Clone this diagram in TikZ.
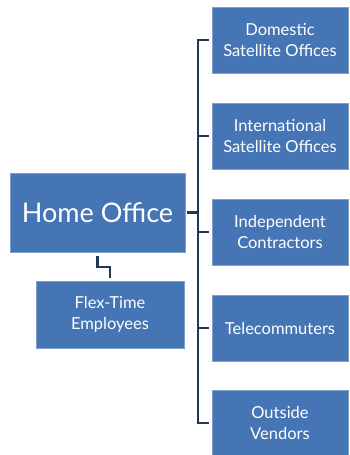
\documentclass[tikz,border=0pt]{standalone}
\usepackage{fontspec}
\setmainfont{Lato}
\usetikzlibrary{positioning, calc}
\definecolor{boxblue}{RGB}{69,117,180}
\definecolor{boxedge}{RGB}{125,160,205}
\definecolor{linknavy}{RGB}{31,56,88}

\tikzset{
    unitbox/.style={draw=boxedge, line width=0.6pt, fill=boxblue, text=white,
        align=center, inner sep=0pt, font=\fontsize{16.5}{20.5}\selectfont},
    branchbox/.style={unitbox, minimum width=136pt, minimum height=66pt},
    link/.style={draw=linknavy, line width=2.2pt}
}

\begin{document}
\begin{tikzpicture}[x=1pt, y=-1pt]
        \useasboundingbox (0,0) rectangle (350,455);
        % head box and its sub unit
        \node[unitbox, minimum width=175pt, minimum height=79pt,
              font=\fontsize{27}{32}\selectfont] (home) at (97.5,212.5) {Home Office};
        \node[unitbox, minimum width=148pt, minimum height=67pt] (flex) at (110,314.5) {Flex-Time\\Employees};
        % branches on the right
        \node[branchbox] (domestic) at (280,40) {Domestic\\Satellite Offices};
        \node[branchbox] (intl) at (280,136) {International\\Satellite Offices};
        \node[branchbox] (contract) at (280,232) {Independent\\Contractors};
        \node[branchbox] (telecom) at (280,328) {Telecommuters};
        \node[branchbox] (vendors) at (280,423) {Outside\\Vendors};
        % bus line
        \coordinate (bustop) at (198,40);
        \coordinate (busbot) at (198,423);
        \draw[link] ([xshift=-3pt]domestic.west) -- (bustop) -- (busbot) -- ([xshift=-3pt]vendors.west);
        \draw[link] ([xshift=2pt]home.east) -- (home.east -| bustop);
        \foreach \b in {intl, contract, telecom}
            \draw[link] (\b.west -| bustop) -- ([xshift=-3pt]\b.west);
        % elbow down to flex-time
        \draw[link] ([yshift=-4pt]home.south) -- ++(0,11) -| ([yshift=3pt]flex.north);
    \end{tikzpicture}
\end{document}
